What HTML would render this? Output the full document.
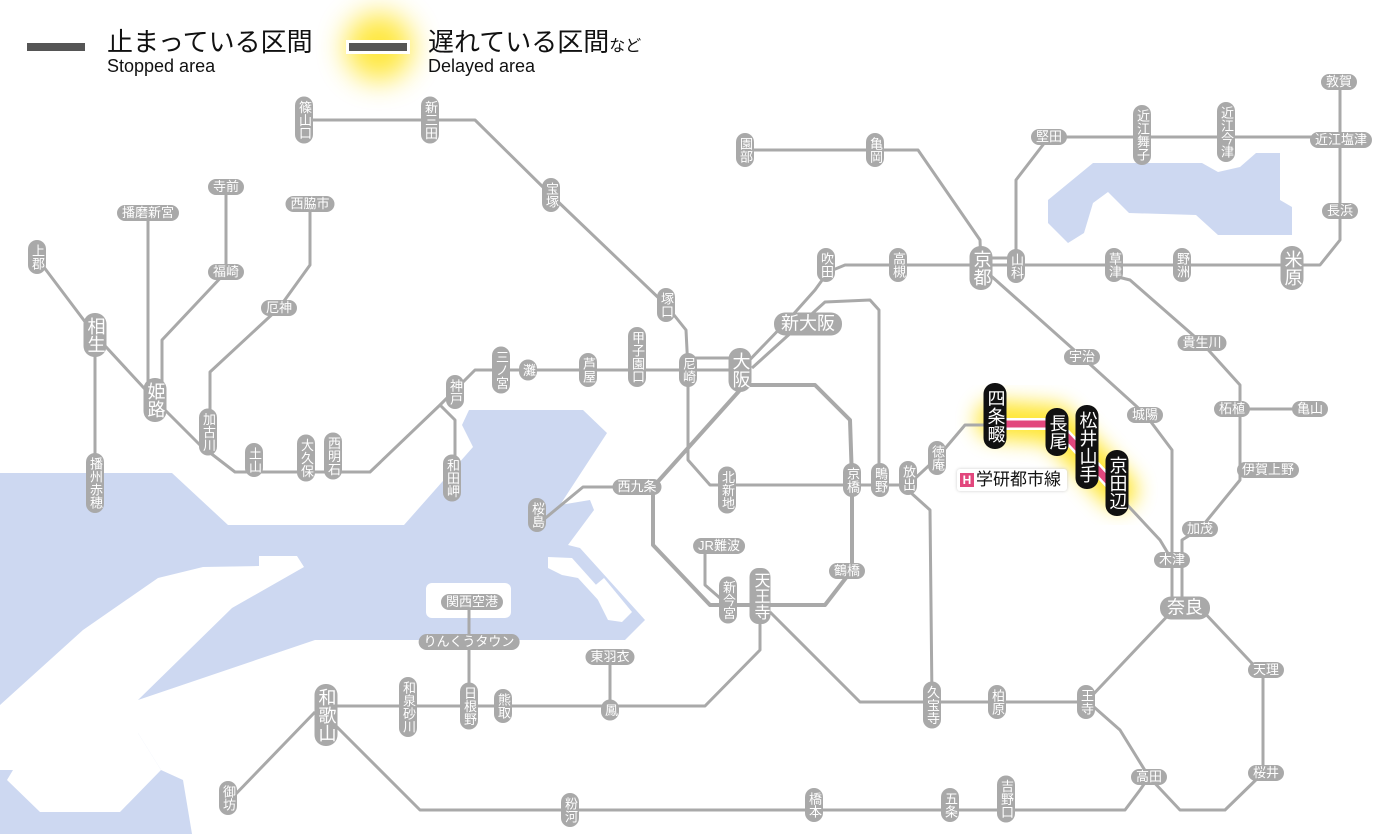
<!DOCTYPE html>
<html><head><meta charset="utf-8">
<style>
html,body{margin:0;padding:0;background:#fff}
#w{position:relative;width:1400px;height:834px;overflow:hidden;font-family:"Liberation Sans","Noto Sans CJK JP",sans-serif}
svg{position:absolute;left:0;top:0}
.s{position:absolute;transform:translate(-50%,-50%);background:#a9a9a9;color:#fff;font-size:13px;line-height:14px;border-radius:9px;white-space:nowrap;font-family:"Liberation Sans","Noto Sans CJK JP",sans-serif}
.v{writing-mode:vertical-rl;text-orientation:upright;padding:4px 2px;width:14px}
.h{padding:1px 5px}
.L{font-size:18px;line-height:19px;border-radius:11px;width:19px}
.L.h{width:auto;padding:2px 7px}
.b{background:#111;font-size:18px;line-height:19px;border-radius:11px;width:19px;padding:6px 2px}
.t{position:absolute;color:#111;white-space:nowrap}
</style></head><body><div id="w">
<svg width="1400" height="834" viewBox="0 0 1400 834">
<defs>
<filter id="bl" x="-50%" y="-50%" width="200%" height="200%"><feGaussianBlur stdDeviation="10"/></filter>
<filter id="bl2" x="-50%" y="-50%" width="200%" height="200%"><feGaussianBlur stdDeviation="14"/></filter>
</defs>
<g fill="#cdd8f1">
<polygon points="0,473 172,473 228,525 404,525 473,447 462,425 469,410 583,410 607,433 560,505 590,500 594,510 568,545 580,548 645,620 625,640 315,640 138,700 138,733 161,770 183,780 192,834 0,834"/>
<polygon points="1048,200 1093,163 1202,163 1218,172 1240,167 1256,153 1280,153 1280,200 1292,207 1292,235 1218,235 1196,215 1129,213 1108,192 1093,203 1084,233 1068,243 1048,223"/>
</g>
<g fill="#fff">
<polygon points="0,705 83,630 158,578 203,567 259,566 259,556 297,556 304,567 232,608 138,700 138,733 161,770 120,812 40,812 7,780 13,770 0,770"/>
<rect x="426" y="583" width="85" height="35" rx="6"/>
<polygon points="548,557 572,558 606,596 600,602 578,578 562,575 548,568"/>
<polygon points="592,588 604,578 632,612 622,622 608,620"/>
</g>
<rect x="27" y="43" width="58" height="8" fill="#555"/>
<circle cx="379" cy="47" r="34" fill="#ffe000" opacity="0.75" filter="url(#bl2)"/>
<rect x="346" y="40" width="64" height="14" fill="#fff"/>
<rect x="349" y="43" width="58" height="8" fill="#555"/>
<polyline points="995,420 1055,424 1075,445 1118,490" fill="none" stroke="#ffe000" stroke-width="38" stroke-linejoin="round" stroke-linecap="round" opacity="0.8" filter="url(#bl)"/>
<g fill="none" stroke="#a9a9a9" stroke-width="3" stroke-linejoin="round">
<polyline points="37,258 95,335 155,400 200,445 235,472 370,472 440,405 475,370 740,370"/>
<polyline points="688,358 745,358"/>
<polyline points="740,370 790,318 815,290 828,272 845,265 1320,265 1340,240 1340,82"/>
<polyline points="95,335 95,500"/>
<polyline points="148,213 148,395"/>
<polyline points="226,187 226,272 162,340 162,400"/>
<polyline points="310,204 310,265 279,308 210,372 210,430"/>
<polyline points="440,405 455,420 455,480"/>
<polyline points="304,120 475,120 551,195 666,305 686,330 688,370 688,460 710,485 908,485"/>
<polyline points="752,368 825,302 870,300 879,310 879,480"/>
<polyline points="740,385 815,385 850,420 852,480 852,570 825,605 710,605 653,545 653,487 740,390" stroke-width="4"/>
<polyline points="637,487 583,487 537,525"/>
<polyline points="705,546 705,585 728,605"/>
<polyline points="760,605 760,650 705,706 326,706"/>
<polyline points="610,657 610,710"/>
<polyline points="469,602 469,705"/>
<polyline points="315,712 230,800"/>
<polyline points="335,725 420,810 1125,810 1140,790 1149,777 1120,730 1086,700"/>
<polyline points="770,612 860,702 1086,702 1175,608"/>
<polyline points="1149,777 1180,810 1225,810 1263,773 1263,675 1200,608"/>
<polyline points="1172,600 1172,450 1145,414 1082,357 990,275"/>
<polyline points="1182,600 1182,540 1200,529 1240,480 1240,409 1310,409"/>
<polyline points="1240,409 1240,385 1202,343 1130,280 1114,276"/>
<polyline points="908,485 937,458 965,425 995,425"/>
<polyline points="1118,495 1160,540 1172,560"/>
<polyline points="910,492 930,510 932,700"/>
<polyline points="1016,265 1016,180 1049,137 1340,137"/>
<polyline points="745,150 918,150 980,240 981,265"/>
<polyline points="981,258 1016,258"/>
</g>
<polyline points="1000,424 1055,424 1075,445 1120,494" fill="none" stroke="#fff" stroke-width="12" stroke-linejoin="round"/>
<polyline points="1000,424 1055,424 1075,445 1120,494" fill="none" stroke="#e2477d" stroke-width="7" stroke-linejoin="round"/>
</svg>

<div class="t" style="left:107px;top:28px;font-size:26px;line-height:28px">止まっている区間</div>
<div class="t" style="left:107px;top:56px;font-size:18px;line-height:20px">Stopped area</div>
<div class="t" style="left:428px;top:28px;font-size:26px;line-height:28px">遅れている区間<span style="font-size:16px">など</span></div>
<div class="t" style="left:428px;top:56px;font-size:18px;line-height:20px">Delayed area</div>

<div style="position:absolute;left:957px;top:469px;width:110px;height:22px;background:#fff;box-shadow:0 0 3px #ccc;border-radius:3px"></div>
<div style="position:absolute;left:960px;top:473px;width:14px;height:14px;background:#e2477d;color:#fff;font-size:12px;line-height:14px;text-align:center;font-weight:bold">H</div>
<div class="t" style="left:976px;top:469px;font-size:17px;line-height:22px">学研都市線</div>

<div class="s v" style="left:304px;top:120px">篠山口</div>
<div class="s v" style="left:430px;top:120px">新三田</div>
<div class="s v" style="left:551px;top:195px">宝塚</div>
<div class="s v" style="left:666px;top:305px">塚口</div>
<div class="s v" style="left:688px;top:370px">尼崎</div>
<div class="s v L" style="left:740px;top:370px">大阪</div>
<div class="s v" style="left:637px;top:357px">甲子園口</div>
<div class="s v" style="left:588px;top:370px">芦屋</div>
<div class="s v" style="left:528px;top:370px">灘</div>
<div class="s v" style="left:501px;top:370px">三ノ宮</div>
<div class="s v" style="left:455px;top:392px">神戸</div>
<div class="s v" style="left:452px;top:478px">和田岬</div>
<div class="s v" style="left:333px;top:456px">西明石</div>
<div class="s v" style="left:306px;top:458px">大久保</div>
<div class="s v" style="left:254px;top:460px">土山</div>
<div class="s v" style="left:208px;top:432px">加古川</div>
<div class="s v L" style="left:155px;top:400px">姫路</div>
<div class="s v L" style="left:95px;top:335px">相生</div>
<div class="s v" style="left:37px;top:257px">上郡</div>
<div class="s v" style="left:95px;top:483px">播州赤穂</div>
<div class="s h" style="left:148px;top:213px">播磨新宮</div>
<div class="s h" style="left:226px;top:187px">寺前</div>
<div class="s h" style="left:226px;top:272px">福崎</div>
<div class="s h" style="left:310px;top:204px">西脇市</div>
<div class="s h" style="left:279px;top:308px">厄神</div>
<div class="s v" style="left:745px;top:150px">園部</div>
<div class="s v" style="left:875px;top:150px">亀岡</div>
<div class="s v L" style="left:981px;top:268px">京都</div>
<div class="s v" style="left:1016px;top:266px">山科</div>
<div class="s v" style="left:826px;top:265px">吹田</div>
<div class="s v" style="left:898px;top:265px">高槻</div>
<div class="s h L" style="left:808px;top:324px">新大阪</div>
<div class="s h" style="left:1049px;top:137px">堅田</div>
<div class="s v" style="left:1142px;top:135px">近江舞子</div>
<div class="s v" style="left:1226px;top:132px">近江今津</div>
<div class="s h" style="left:1339px;top:82px">敦賀</div>
<div class="s h" style="left:1341px;top:140px">近江塩津</div>
<div class="s h" style="left:1340px;top:211px">長浜</div>
<div class="s v L" style="left:1292px;top:268px">米原</div>
<div class="s v" style="left:1114px;top:265px">草津</div>
<div class="s v" style="left:1182px;top:265px">野洲</div>
<div class="s h" style="left:1082px;top:357px">宇治</div>
<div class="s h" style="left:1145px;top:415px">城陽</div>
<div class="s h" style="left:1202px;top:343px">貴生川</div>
<div class="s h" style="left:1232px;top:409px">柘植</div>
<div class="s h" style="left:1310px;top:409px">亀山</div>
<div class="s h" style="left:1268px;top:470px">伊賀上野</div>
<div class="s h" style="left:1200px;top:529px">加茂</div>
<div class="s h" style="left:1172px;top:560px">木津</div>
<div class="s h L" style="left:1185px;top:608px">奈良</div>
<div class="s h" style="left:1266px;top:670px">天理</div>
<div class="s h" style="left:1266px;top:773px">桜井</div>
<div class="s h" style="left:1149px;top:777px">高田</div>
<div class="s v" style="left:1086px;top:702px">王寺</div>
<div class="s v" style="left:997px;top:702px">柏原</div>
<div class="s v" style="left:932px;top:705px">久宝寺</div>
<div class="s v b" style="left:995px;top:416px">四条畷</div>
<div class="s v b" style="left:1057px;top:432px">長尾</div>
<div class="s v b" style="left:1087px;top:447px">松井山手</div>
<div class="s v b" style="left:1117px;top:483px">京田辺</div>
<div class="s v" style="left:937px;top:458px">徳庵</div>
<div class="s v" style="left:908px;top:478px">放出</div>
<div class="s v" style="left:880px;top:480px">鴫野</div>
<div class="s v" style="left:852px;top:480px">京橋</div>
<div class="s v" style="left:727px;top:490px">北新地</div>
<div class="s h" style="left:637px;top:487px">西九条</div>
<div class="s v" style="left:537px;top:515px">桜島</div>
<div class="s h" style="left:719px;top:546px">JR難波</div>
<div class="s v" style="left:728px;top:600px">新今宮</div>
<div class="s v" style="left:760px;top:596px;font-size:16px;line-height:17px;width:17px">天王寺</div>
<div class="s h" style="left:847px;top:571px">鶴橋</div>
<div class="s h" style="left:472px;top:602px">関西空港</div>
<div class="s h" style="left:469px;top:642px">りんくうタウン</div>
<div class="s h" style="left:610px;top:657px">東羽衣</div>
<div class="s v" style="left:610px;top:710px">鳳</div>
<div class="s v" style="left:503px;top:706px">熊取</div>
<div class="s v" style="left:469px;top:706px">日根野</div>
<div class="s v" style="left:408px;top:707px">和泉砂川</div>
<div class="s v L" style="left:326px;top:715px">和歌山</div>
<div class="s v" style="left:228px;top:798px">御坊</div>
<div class="s v" style="left:570px;top:810px">粉河</div>
<div class="s v" style="left:814px;top:805px">橋本</div>
<div class="s v" style="left:950px;top:805px">五条</div>
<div class="s v" style="left:1006px;top:799px">吉野口</div>
</div></body></html>
